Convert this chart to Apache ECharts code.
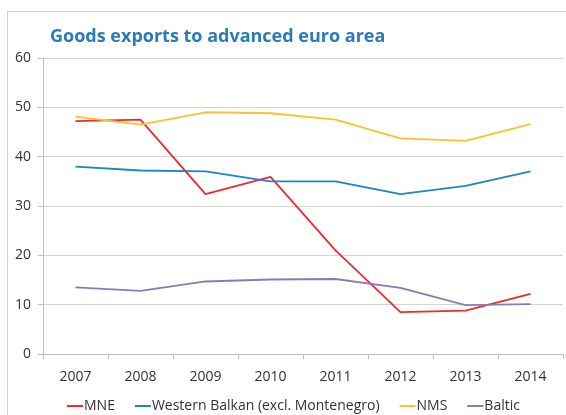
<!DOCTYPE html>
<html>
<head>
<meta charset="utf-8">
<script src="https://cdn.jsdelivr.net/npm/echarts@6/dist/echarts.min.js"></script>
<style>
  html, body { margin: 0; padding: 0; background: #fff; }
  #frame { position: absolute; left: 7px; top: 11px; width: 570px; height: 420px; border: 1px solid #d0d0d0; box-sizing: border-box; }
  #chart { position: absolute; left: 0; top: 0; width: 566px; height: 415px; }
</style>
</head>
<body>
<div id="frame"></div>
<div id="chart"></div>
<script>
var years = ['2007', '2008', '2009', '2010', '2011', '2012', '2013', '2014'];
var mne = [47.2, 47.5, 32.4, 35.9, 21.0, 8.5, 8.8, 12.2];
var westernBalkan = [38.0, 37.2, 37.0, 35.0, 35.0, 32.4, 34.1, 37.0];
var nms = [48.1, 46.5, 49.0, 48.8, 47.5, 43.7, 43.2, 46.6];
var baltic = [13.5, 12.8, 14.7, 15.1, 15.2, 13.4, 9.9, 10.1];

var font = '"Open Sans", "Noto Sans", sans-serif';

function line(name, data, color) {
    return {
        name: name,
        type: 'line',
        data: data,
        symbol: 'none',
        lineStyle: { color: color, width: 1.8 },
        itemStyle: { color: color }
    };
}

var myChart = echarts.init(document.getElementById('chart'));
var option = {
    animation: false,
    title: {
        text: 'Goods exports to advanced euro area',
        left: 45,
        top: 23,
        textStyle: { color: '#2b7bb9', fontSize: 18, fontWeight: 'bold', fontFamily: font }
    },
    legend: {
        top: 394,
        left: 62,
        itemWidth: 16,
        itemHeight: 2,
        itemGap: 20,
        icon: 'rect',
        textStyle: { color: '#333', fontSize: 14, fontFamily: font, padding: [0, 0, 0, -4] },
        data: ['MNE', 'Western Balkan (excl. Montenegro)', 'NMS', 'Baltic']
    },
    grid: { left: 43, right: 3, top: 58, bottom: 61 },
    xAxis: {
        type: 'category',
        data: years,
        boundaryGap: true,
        axisLine: { lineStyle: { color: '#bfbfbf' } },
        axisTick: { show: true, length: 5, lineStyle: { color: '#bfbfbf' } },
        axisLabel: { color: '#333', fontSize: 14, fontFamily: font, margin: 16 }
    },
    yAxis: {
        type: 'value',
        min: 0,
        max: 60,
        interval: 10,
        axisLine: { show: true, lineStyle: { color: '#bfbfbf' } },
        axisTick: { show: true, length: 5, lineStyle: { color: '#bfbfbf' } },
        splitLine: { lineStyle: { color: '#d4d4d4' } },
        axisLabel: { color: '#333', fontSize: 14, fontFamily: font, margin: 12 }
    },
    series: [
        line('MNE', mne, '#ee2a2a'),
        line('Western Balkan (excl. Montenegro)', westernBalkan, '#1a87c0'),
        line('NMS', nms, '#fcc12e'),
        line('Baltic', baltic, '#9079b2')
    ]
};
myChart.setOption(option);
</script>
</body>
</html>
